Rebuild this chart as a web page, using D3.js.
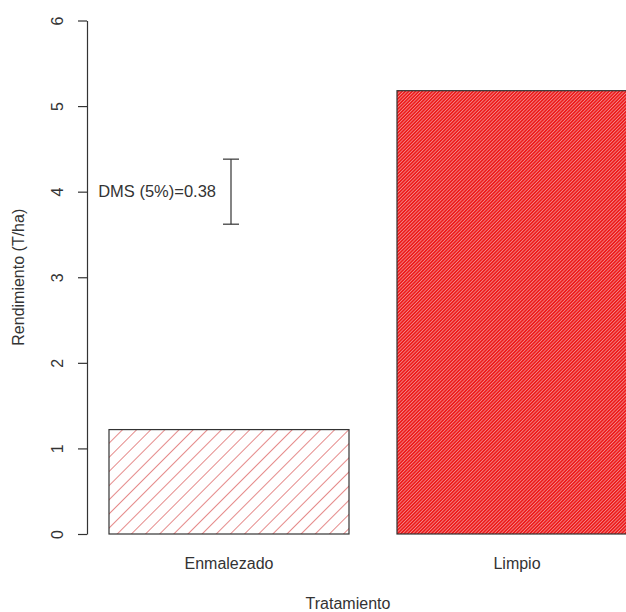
<!DOCTYPE html>
<html>
<head>
<meta charset="utf-8">
<script src="https://cdn.jsdelivr.net/npm/d3@7"></script>
<style>
  body { margin: 0; background: #fff; }
  text { font-family: "Liberation Sans", Arial, sans-serif; fill: #333; }
</style>
</head>
<body>
<svg class="chart" width="626" height="612"></svg>
<script>
// data
var tratamientos = ["Enmalezado", "Limpio"];
var rendimiento = [1.22, 5.18];
var yTicks = [0, 1, 2, 3, 4, 5, 6];
var dmsCentro = 4;
var dmsValor = 0.38;
var dmsTexto = "DMS (5%)=0.38";

var svg = d3.select("svg.chart");

// scales: bars 240px wide, gap 48px, first bar starts at x=109
var x = d3.scaleBand()
    .domain(tratamientos)
    .range([109, 637])
    .paddingInner(48 / 288)
    .paddingOuter(0);

var y = d3.scaleLinear()
    .domain([0, 6])
    .range([534, 20.5]);

// hatch patterns
var defs = svg.append("defs");
defs.append("pattern")
    .attr("id", "hatchSparse")
    .attr("patternUnits", "userSpaceOnUse")
    .attr("width", 10)
    .attr("height", 10)
    .attr("patternTransform", "rotate(45)")
  .append("line")
    .attr("x1", 0).attr("y1", 0)
    .attr("x2", 0).attr("y2", 10)
    .attr("stroke", "#d43a3a")
    .attr("stroke-width", 1.2);

var dense = defs.append("pattern")
    .attr("id", "hatchDense")
    .attr("patternUnits", "userSpaceOnUse")
    .attr("width", 2.4)
    .attr("height", 10)
    .attr("patternTransform", "rotate(45)");
dense.append("rect")
    .attr("width", 2.4).attr("height", 10)
    .attr("fill", "#f08a8a");
dense.append("line")
    .attr("x1", 0.8).attr("y1", 0)
    .attr("x2", 0.8).attr("y2", 10)
    .attr("stroke", "#ee1c1c")
    .attr("stroke-width", 1.6);

var fills = ["url(#hatchSparse)", "url(#hatchDense)"];

// bars
svg.selectAll("rect.bar")
    .data(tratamientos)
    .enter()
    .append("rect")
      .attr("class", "bar")
      .attr("x", function(d) { return x(d); })
      .attr("y", function(d, i) { return y(rendimiento[i]); })
      .attr("width", x.bandwidth())
      .attr("height", function(d, i) { return y(0) - y(rendimiento[i]); })
      .attr("fill", function(d, i) { return fills[i]; })
      .attr("stroke", "#333")
      .attr("stroke-width", 1.2);

// y axis (R style: line spans the ticks only, labels rotated)
var yAxis = svg.append("g")
    .attr("transform", "translate(87,0)")
    .call(d3.axisLeft(y).tickValues(yTicks).tickSize(9).tickSizeOuter(0).tickFormat(d3.format("d")));
yAxis.select(".domain").attr("stroke", "#333").attr("stroke-width", 1.2);
yAxis.selectAll(".tick line").attr("stroke", "#333").attr("stroke-width", 1.2);
yAxis.selectAll(".tick text")
    .attr("x", null)
    .attr("dy", null)
    .attr("transform", "translate(-30,0) rotate(-90)")
    .attr("text-anchor", "middle")
    .attr("dominant-baseline", "central")
    .style("font-size", "16px")
    .attr("fill", "#333")
    .style("font-family", "'Liberation Sans', Arial, sans-serif");

// category labels
svg.selectAll("text.cat")
    .data(tratamientos)
    .enter()
    .append("text")
      .attr("class", "cat")
      .attr("x", function(d) { return x(d) + x.bandwidth() / 2; })
      .attr("y", 569)
      .attr("text-anchor", "middle")
      .style("font-size", "16px")
      .text(function(d) { return d; });

// axis titles
svg.append("text")
    .attr("x", 348)
    .attr("y", 609)
    .attr("text-anchor", "middle")
    .style("font-size", "16px")
    .text("Tratamiento");

svg.append("text")
    .attr("transform", "translate(24," + y(3) + ") rotate(-90)")
    .attr("text-anchor", "middle")
    .style("font-size", "16px")
    .text("Rendimiento (T/ha)");

// DMS error bar
var ex = x(tratamientos[0]) + x.bandwidth() / 2 + 2;
var eb = svg.append("g").attr("stroke", "#333").attr("stroke-width", 1.2);
eb.append("line")
    .attr("x1", ex).attr("x2", ex)
    .attr("y1", y(dmsCentro - dmsValor)).attr("y2", y(dmsCentro + dmsValor));
[dmsCentro - dmsValor, dmsCentro + dmsValor].forEach(function(v) {
    eb.append("line")
        .attr("x1", ex - 8).attr("x2", ex + 8)
        .attr("y1", y(v)).attr("y2", y(v));
});

svg.append("text")
    .attr("x", 216)
    .attr("y", y(dmsCentro))
    .attr("dy", "0.35em")
    .attr("text-anchor", "end")
    .style("font-size", "16.5px")
    .text(dmsTexto);
</script>
</body>
</html>
